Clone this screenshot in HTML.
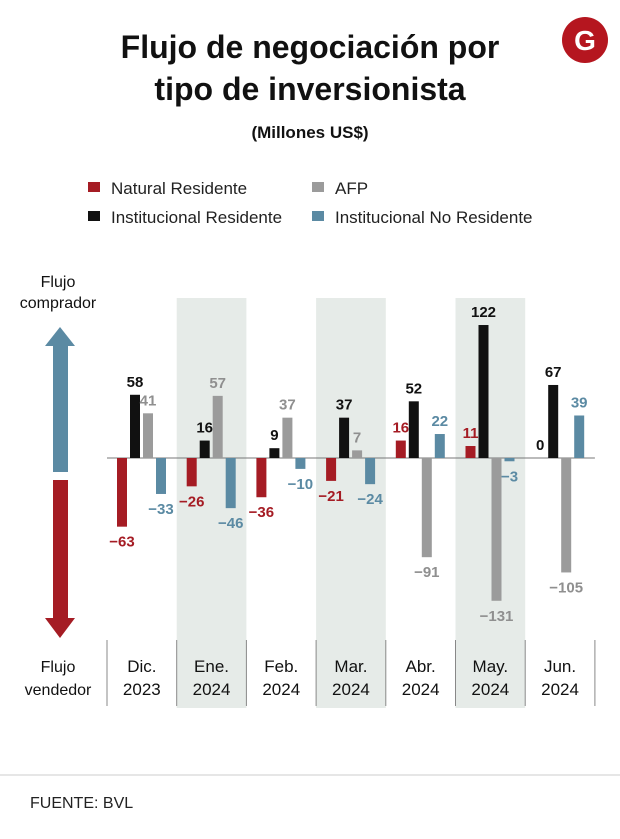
<!DOCTYPE html>
<html><head><meta charset="utf-8"><style>
body{margin:0;background:#fff;width:620px;height:834px;overflow:hidden;font-family:"Liberation Sans",sans-serif}
</style></head><body>
<svg width="620" height="834" viewBox="0 0 620 834" xmlns="http://www.w3.org/2000/svg">
<g>
<circle cx="585" cy="40" r="23" fill="#b5161f"/>
<text x="585" y="50" text-anchor="middle" font-size="28" font-weight="bold" fill="#fff">G</text>
</g>
<text x="310" y="58" text-anchor="middle" font-size="32" font-weight="bold" fill="#111">Flujo de negociación por</text>
<text x="310" y="100" text-anchor="middle" font-size="32" font-weight="bold" fill="#111">tipo de inversionista</text>
<text x="310" y="138" text-anchor="middle" font-size="17" font-weight="bold" fill="#111">(Millones US$)</text>
<g font-size="17" fill="#222">
<rect x="88" y="182" width="12" height="10" fill="#a51c24"/><text x="111" y="194">Natural Residente</text>
<rect x="312" y="182" width="12" height="10" fill="#9b9b9b"/><text x="335" y="194">AFP</text>
<rect x="88" y="211" width="12" height="10" fill="#111"/><text x="111" y="223">Institucional Residente</text>
<rect x="312" y="211" width="12" height="10" fill="#5b8aa3"/><text x="335" y="223">Institucional No Residente</text>
</g>
<g>
<text x="58" y="287" text-anchor="middle" font-size="16" fill="#111">Flujo</text>
<text x="58" y="308" text-anchor="middle" font-size="16" fill="#111">comprador</text>
<rect x="53" y="344" width="15" height="128" fill="#5b8aa3"/>
<polygon points="45,346 60,327 75,346" fill="#5b8aa3"/>
<rect x="53" y="480" width="15" height="140" fill="#a51c24"/>
<polygon points="45,618 60,638 75,618" fill="#a51c24"/>
<text x="58" y="672" text-anchor="middle" font-size="16" fill="#111">Flujo</text>
<text x="58" y="695" text-anchor="middle" font-size="16" fill="#111">vendedor</text>
</g>
<g id="plot"></g>
<line x1="0" y1="775" x2="620" y2="775" stroke="#ccc"/>
<text x="30" y="808" font-size="16" fill="#222">FUENTE: BVL</text>
</svg>
<script>
const categories=["Dic.|2023","Ene.|2024","Feb.|2024","Mar.|2024","Abr.|2024","May.|2024","Jun.|2024"];
const naturalResidente=[-63,-26,-36,-21,16,11,0];
const institucionalResidente=[58,16,9,37,52,122,67];
const afp=[41,57,37,7,-91,-131,-105];
const institucionalNoResidente=[-33,-46,-10,-24,22,-3,39];
const seriesList=[naturalResidente,institucionalResidente,afp,institucionalNoResidente];
const seriesNames=["natural-residente","institucional-residente","afp","institucional-no-residente"];
const colors=["#a51c24","#111111","#9b9b9b","#5b8aa3"];
const labelColors=["#a51c24","#111111","#8f8f8f","#5b8aa3"];
const NS="http://www.w3.org/2000/svg";
const g=document.getElementById('plot');
const x0=107,colW=69.7,zeroY=458,k=1.09;
const y=v=>zeroY-v*k;
const colX=i=>x0+i*colW;
function mk(t,a){const e=document.createElementNS(NS,t);for(const n in a)e.setAttribute(n,a[n]);g.appendChild(e);return e;}
categories.forEach((c,i)=>{
  if(i%2===1){const r=mk('rect',{x:colX(i),y:298,width:colW,height:410,fill:'#e6ebe8'});
  
  }
});
for(let i=0;i<=categories.length;i++){
  const l=mk('line',{x1:colX(i),y1:640,x2:colX(i),y2:706,stroke:'#888','stroke-width':1});
  
  
}
const ax=mk('line',{x1:x0,y1:zeroY,x2:colX(categories.length),y2:zeroY,stroke:'#777','stroke-width':1});


categories.forEach((c,i)=>{
  const parts=c.split('|');
  parts.forEach((p,j)=>{const t=mk('text',{x:colX(i)+colW/2,y:672+j*23,'text-anchor':'middle','font-size':17,fill:'#111'});t.textContent=p;
  
  });
  seriesList.forEach((s,si)=>{
    const v=s[i];const bx=colX(i)+10+si*13;const bw=10;
    const top=Math.min(y(v),zeroY),h=Math.abs(y(v)-zeroY);
    const r=mk('rect',{x:bx,y:top,width:bw,height:Math.max(h,0),fill:colors[si]});
    
    
    const ly=v>=0?y(v)-8:y(v)+20;
    const t=mk('text',{x:bx+bw/2,y:ly,'text-anchor':'middle','font-size':15,'font-weight':'bold',fill:v===0?'#111':labelColors[si]});
    t.textContent=v<0?'\u2212'+Math.abs(v):String(v);
    
    
  });
});
</script>
</body></html>
